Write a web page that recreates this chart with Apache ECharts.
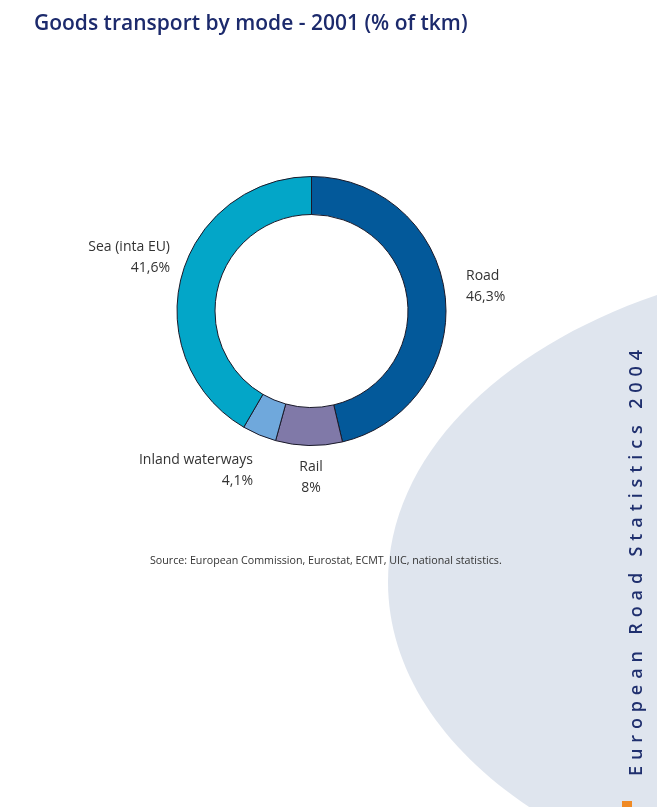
<!DOCTYPE html>
<html>
<head>
<meta charset="utf-8">
<script src="https://cdn.jsdelivr.net/npm/echarts@6/dist/echarts.min.js"></script>
<style>
html,body{margin:0;padding:0;background:#fff;}
#chart{width:657px;height:807px;}
</style>
</head>
<body>
<div id="chart"></div>
<script>
var categories = ['Road', 'Rail', 'Inland waterways', 'Sea (inta EU)'];
var values = [46.3, 8, 4.1, 41.6];
var colors = ['#03599a', '#8079a8', '#6fa8dc', '#03a6c8'];

var labelPos = {
  'Road': {x: 466, y: 287, align: 'left'},
  'Rail': {x: 311, y: 478, align: 'center'},
  'Inland waterways': {x: 253, y: 471, align: 'right'},
  'Sea (inta EU)': {x: 170, y: 258, align: 'right'}
};

// vertical side banner, letters spread over a fixed length
var bannerText = 'European Road Statistics 2004';
var bannerFont = '600 18px "Open Sans"';
var bannerStartY = 776, bannerEndY = 350, bannerX = 637;
var ctx = document.createElement('canvas').getContext('2d');
ctx.font = bannerFont;
var chars = bannerText.split('');
var widths = chars.map(function (c) { return ctx.measureText(c).width; });
var totalW = widths.reduce(function (a, b) { return a + b; }, 0);
var gap = ((bannerStartY - bannerEndY) - totalW) / (chars.length - 1);
var bannerEls = [];
var off = 0;
chars.forEach(function (c, i) {
  if (c !== ' ') {
    bannerEls.push({type: 'text', x: bannerX, y: bannerStartY - off, rotation: Math.PI / 2,
      style: {text: c, font: bannerFont, fill: '#1f2f6e', align: 'left', verticalAlign: 'middle'}});
  }
  off += widths[i] + gap;
});

var chart = echarts.init(document.getElementById('chart'), null, {renderer: 'canvas'});
var option = {
  backgroundColor: '#ffffff',
  animation: false,
  title: {
    text: 'Goods transport by mode - 2001 (% of tkm)',
    left: 29, top: 9,
    textStyle: {fontFamily: 'Open Sans', fontWeight: 600, fontSize: 21, color: '#1c2a6c'}
  },
  graphic: [
    {type: 'ellipse', shape: {cx: 895, cy: 582, rx: 507, ry: 325}, style: {fill: '#dfe5ee'}, z: -10, silent: true},
    {type: 'rect', shape: {x: 622, y: 801, width: 10, height: 6}, style: {fill: '#f08a24'}, z: -5},
    {type: 'text', x: 150, y: 561,
      style: {text: 'Source: European Commission, Eurostat, ECMT, UIC, national statistics.',
        fontFamily: 'Open Sans', fontSize: 10.7, fill: '#333', align: 'left', verticalAlign: 'middle'}}
  ].concat(bannerEls),
  series: [{
    type: 'pie',
    center: [311.5, 311],
    radius: [96.5, 134.5],
    startAngle: 90,
    clockwise: true,
    avoidLabelOverlap: false,
    itemStyle: {borderColor: '#1a1a2a', borderWidth: 1},
    label: {
      show: true,
      position: 'outside',
      fontFamily: 'Open Sans',
      fontSize: 14,
      lineHeight: 21,
      color: '#333',
      formatter: function (p) {
        return p.name + '\n' + String(p.value).replace('.', ',') + '%';
      }
    },
    labelLine: {show: false},
    labelLayout: function (p) {
      var lp = labelPos[categories[p.dataIndex]];
      return {x: lp.x, y: lp.y, align: lp.align, verticalAlign: 'middle'};
    },
    emphasis: {disabled: true},
    data: categories.map(function (c, i) {
      return {name: c, value: values[i], itemStyle: {color: colors[i]}};
    })
  }]
};
chart.setOption(option);
</script>
</body>
</html>
